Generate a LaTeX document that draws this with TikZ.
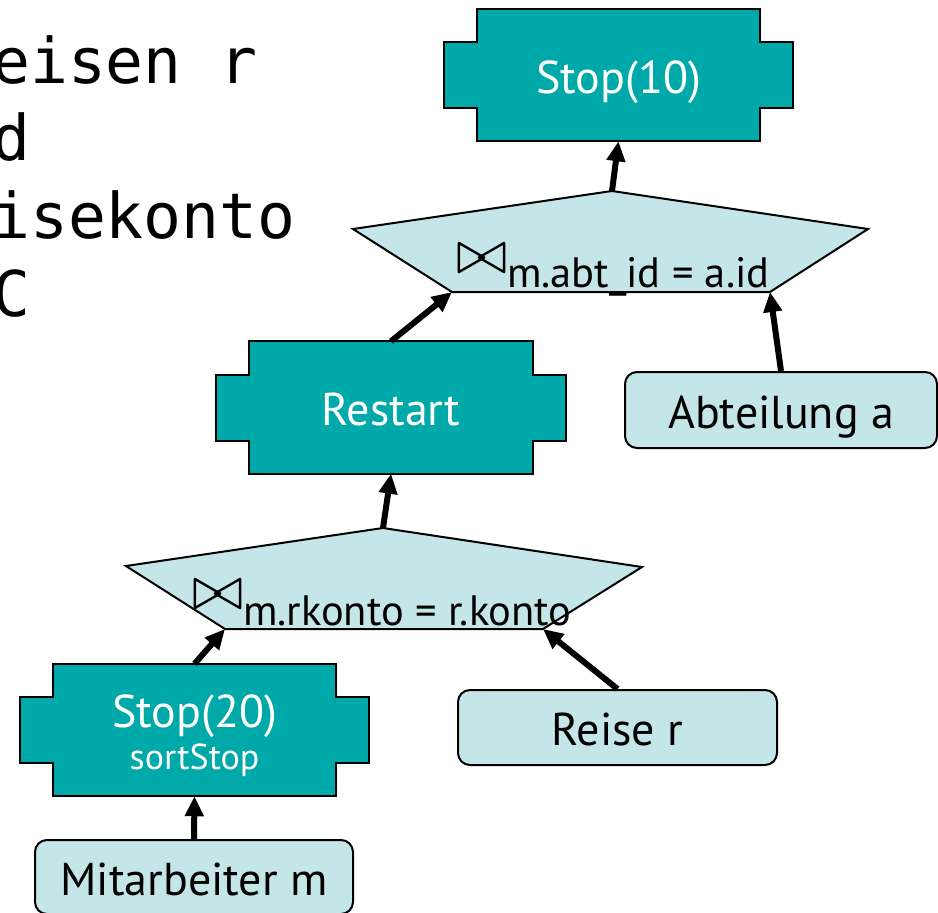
\documentclass[tikz,border=0pt]{standalone}
\usepackage{fontspec}
\setmainfont{PT Sans}
\newfontfamily\codefont{DejaVu Sans Mono}
\usetikzlibrary{arrows.meta,calc,backgrounds}

\definecolor{opteal}{RGB}{0,169,169}
\definecolor{relblue}{RGB}{197,230,232}

\tikzset{
  opbox/.style={minimum width=283pt, minimum height=132pt, inner sep=0pt,
    text=white, align=center, text height=36pt, text depth=0pt,
    font=\fontsize{46}{42}\selectfont},
  opshape/.style={fill=opteal, draw=black, line width=2pt},
  relbox/.style={draw=black, line width=2pt, fill=relblue, rounded corners=12pt,
    inner sep=0pt, text height=36pt, text depth=0pt,
    font=\fontsize{46}{46}\selectfont},
  joinshape/.style={fill=relblue, draw=black, line width=2pt},
  condtext/.style={anchor=base west, inner sep=0pt, font=\fontsize{42.5}{42.5}\selectfont},
  joinsym/.style={anchor=south west, inner sep=0pt},
  flow/.style={line width=6pt, -{Triangle[length=20pt,width=18pt]}},
  sqltext/.style={anchor=base west, inner sep=0pt, font=\codefont\fontsize{63}{78}\selectfont},
}

% outline of an operator box: body with a tab on either side
\newcommand\opoutline[1]{%
  \path[opshape] (#1.north west) -- (#1.north east)
    -- ($(#1.east)+(0pt,33pt)$) -- ++(33pt,0pt) -- ++(0pt,-66pt)
    -- ($(#1.east)+(0pt,-33pt)$) -- (#1.south east) -- (#1.south west)
    -- ($(#1.west)+(0pt,-33pt)$) -- ++(-33pt,0pt) -- ++(0pt,66pt)
    -- ($(#1.west)+(0pt,33pt)$) -- cycle;}

\begin{document}
\begin{tikzpicture}[x=1pt,y=-1pt]
\useasboundingbox (0,0) rectangle (938,913);
\clip (0,0) rectangle (938,913);

% query text at the left
\node[sqltext] (sql1) at (-8,83) {eisen r};
\node[sqltext] (sql2) at (-8,160) {d};
\node[sqltext] (sql3) at (-8,238) {isekonto};
\node[sqltext] (sql4) at (-8,316) {C};

% operators
\node[opbox] (stop10) at (618.5,75) {Stop(10)};
\node[opbox] (restart) at (391,407.5) {Restart};
\node[opbox, text height=78pt] (stop20) at (194.5,730)
  {Stop(20)\\{\fontsize{36}{42}\selectfont sortStop}};
\begin{scope}[on background layer]
  \opoutline{stop10}
  \opoutline{restart}
  \opoutline{stop20}
\end{scope}

% base relations
\node[relbox, minimum width=312pt, minimum height=76pt] (abt) at (781,410) {Abteilung a};
\node[relbox, minimum width=319pt, minimum height=75pt] (reise) at (617.5,727.5) {Reise r};
\node[relbox, minimum width=318pt, minimum height=74pt] (mitarb) at (194,877) {Mitarbeiter m};

% upper join
\coordinate (j1top) at (612,191);
\coordinate (j1left) at (353,229);
\coordinate (j1right) at (868,229);
\coordinate (j1bl) at (452,292);
\coordinate (j1br) at (770,292);
\path[joinshape] (j1top) -- (j1right) -- (j1br) -- (j1bl) -- (j1left) -- cycle;
\node[joinsym] (j1op) at (456,274) {\scalebox{6.2}{$\bowtie$}};
\node[condtext] (j1cond) at (507,287) {m.abt\_id = a.id};

% lower join
\coordinate (j2top) at (383,528);
\coordinate (j2left) at (126,566);
\coordinate (j2right) at (642,567);
\coordinate (j2bl) at (225,629);
\coordinate (j2br) at (543,629);
\path[joinshape] (j2top) -- (j2right) -- (j2br) -- (j2bl) -- (j2left) -- cycle;
\node[joinsym] (j2op) at (192,610) {\scalebox{6.2}{$\bowtie$}};
\node[condtext] (j2cond) at (243,625) {m.rkonto = r.konto};

% data flow
\draw[flow] (j1top) -- (stop10.south);
\draw[flow] (restart.north) -- (j1bl);
\draw[flow] (abt.north) -- (j1br);
\draw[flow] (j2top) -- (restart.south);
\draw[flow] (stop20.north) -- (j2bl);
\draw[flow] (reise.north) -- (j2br);
\draw[flow] (mitarb.north) -- (stop20.south);
\end{tikzpicture}
\end{document}
